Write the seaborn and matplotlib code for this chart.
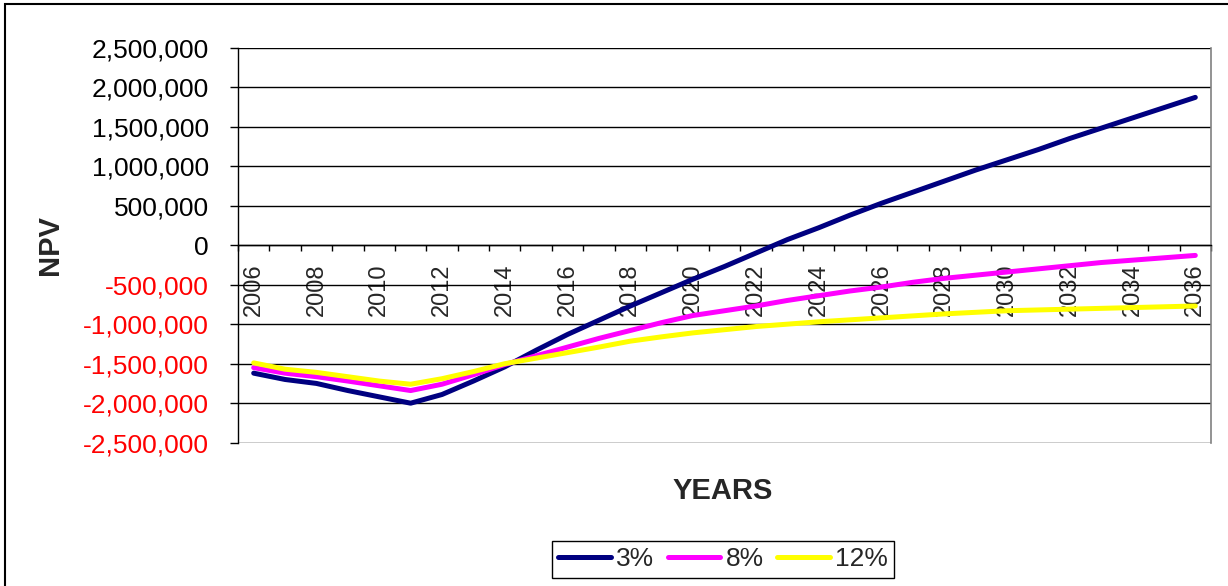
import numpy as np
import pandas as pd
import matplotlib
matplotlib.use("Agg")
import matplotlib.pyplot as plt
from matplotlib.patches import Rectangle
from matplotlib.ticker import FixedLocator, FuncFormatter
import seaborn as sns

years = list(range(2006, 2037))
npv_3 = [-1620000, -1700000, -1750000, -1840000, -1920000, -2000000, -1890000, -1720000,
         -1540000, -1330000, -1130000, -950000, -770000, -600000, -430000, -270000,
         -100000, 70000, 220000, 380000, 530000, 670000, 810000, 950000, 1080000,
         1210000, 1350000, 1480000, 1610000, 1740000, 1870000]
npv_8 = [-1550000, -1620000, -1665000, -1720000, -1780000, -1840000, -1760000, -1640000,
         -1510000, -1400000, -1290000, -1180000, -1080000, -980000, -890000, -830000,
         -770000, -700000, -640000, -580000, -530000, -470000, -420000, -380000, -340000,
         -300000, -260000, -220000, -190000, -160000, -130000]
npv_12 = [-1490000, -1570000, -1610000, -1665000, -1720000, -1760000, -1690000, -1600000,
          -1500000, -1430000, -1360000, -1290000, -1215000, -1160000, -1110000, -1070000,
          -1030000, -1000000, -970000, -945000, -920000, -895000, -870000, -850000, -830000,
          -820000, -810000, -800000, -790000, -780000, -770000]
series_names = ["3%", "8%", "12%"]
series_colors = ["#000080", "#FF00FF", "#FFFF00"]
y_ticks = list(range(-2500000, 2500001, 500000))

df = pd.concat([
    pd.DataFrame({"Year": years, "NPV": npv_3, "Rate": "3%"}),
    pd.DataFrame({"Year": years, "NPV": npv_8, "Rate": "8%"}),
    pd.DataFrame({"Year": years, "NPV": npv_12, "Rate": "12%"}),
])

sns.set_theme(style="white")
plt.rcParams["font.family"] = ["Liberation Sans", "DejaVu Sans"]

W, H = 1228, 586
fig = plt.figure(figsize=(W / 100, H / 100), dpi=100)
fig.patch.set_facecolor("white")
left, right, top, bottom = 238, 1211, 47.6, 442.7
ax = fig.add_axes([left / W, 1 - bottom / H, (right - left) / W, (bottom - top) / H])

sns.lineplot(data=df, x="Year", y="NPV", hue="Rate", hue_order=series_names,
             palette=dict(zip(series_names, series_colors)), linewidth=3.6,
             ax=ax, legend=False, zorder=3)

ax.set_xlim(2005.5, 2036.5)
ax.set_ylim(-2500000, 2500000)
ax.set_xlabel("")
ax.set_ylabel("")

# y axis
ax.yaxis.set_major_locator(FixedLocator(y_ticks))
ax.yaxis.set_major_formatter(FuncFormatter(lambda v, p: f"{int(round(v)):,}"))
ax.tick_params(axis="y", which="major", direction="out", length=5.8, width=1,
               color="black", pad=15, labelsize=19, left=True)
for lbl, v in zip(ax.get_yticklabels(), y_ticks):
    lbl.set_color("red" if v < 0 else "black")
ax.yaxis.grid(True, color="black", linewidth=1)
ax.xaxis.grid(False)

# x axis at zero
ax.spines["bottom"].set_position(("data", 0))
ax.spines["bottom"].set_color("black")
ax.spines["bottom"].set_linewidth(1)
ax.spines["left"].set_color("black")
ax.spines["left"].set_linewidth(1)
ax.spines["top"].set_visible(False)
ax.spines["right"].set_color("#808080")
ax.spines["right"].set_linewidth(1.2)

ax.set_xticks(years[::2])
ax.set_xticklabels([str(y) for y in years[::2]], rotation=90)
ax.set_xticks([y - 0.5 for y in years] + [years[-1] + 0.5], minor=True)
ax.tick_params(axis="x", which="major", length=0, pad=13, labelsize=17, bottom=True)
ax.tick_params(axis="x", which="minor", direction="out", length=4.3, width=1,
               color="black", bottom=True)

# axis titles
fig.text(50 / W, 1 - 245 / H, "NPV", rotation=90, fontsize=21, fontweight="bold",
         ha="center", va="center")
fig.text(723 / W, 1 - 491 / H, "YEARS", fontsize=21, fontweight="bold",
         ha="center", va="center")

# legend
handles = ax.get_lines()[:3]
leg = fig.legend(handles, series_names, loc="center",
                 bbox_to_anchor=(723 / W, 1 - 559.5 / H), ncol=3, frameon=True,
                 fancybox=False, edgecolor="black", facecolor="white", framealpha=1,
                 fontsize=19, handlelength=2.0, handletextpad=0.2,
                 columnspacing=0.5, borderpad=0.25)
leg.get_frame().set_linewidth(1)

# chart-area border (left and top visible)
fig.add_artist(Rectangle((4.5 / W, -0.1), 1.2, (1 - 3.5 / H) + 0.1,
                         transform=fig.transFigure, fill=False,
                         edgecolor="black", linewidth=1.5))

fig.savefig("out.png", dpi=100)
